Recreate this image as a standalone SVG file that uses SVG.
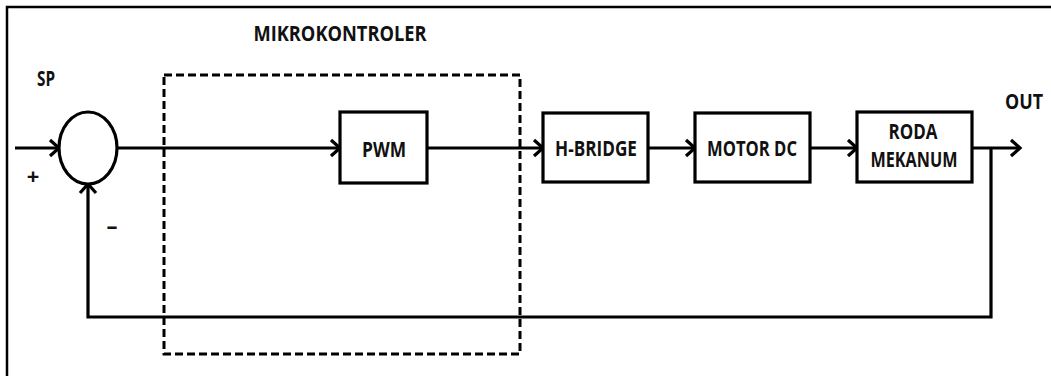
<svg xmlns="http://www.w3.org/2000/svg" width="1051" height="376" viewBox="0 0 1051 376">
<defs>
<marker id="arr" markerWidth="16" markerHeight="20" refX="12" refY="10" orient="auto" markerUnits="userSpaceOnUse">
<path d="M3,2 L12,10 L3,18" fill="none" stroke="#000" stroke-width="3.2"/>
</marker>
<style>
.ln{fill:none;stroke:#000;stroke-width:3.2}
.box{fill:#fff;stroke:#000;stroke-width:3.2}
.t{font-family:"Open Sans","Liberation Sans",sans-serif;font-weight:bold;font-size:22px;fill:#111;text-anchor:middle}
</style>
</defs>
<rect x="0" y="0" width="1051" height="376" fill="#fff"/>
<path d="M7,380 V7 H1060" fill="none" stroke="#000" stroke-width="2.5"/>
<g id="microcontroller">
<rect x="164" y="75" width="356" height="279" fill="none" stroke="#000" stroke-width="3" stroke-dasharray="8,4"/>
<text class="t" x="340" y="41" textLength="173" lengthAdjust="spacingAndGlyphs">MIKROKONTROLER</text>
</g>
<g id="connectors">
<line class="ln" x1="15" y1="148" x2="59" y2="148" marker-end="url(#arr)"/>
<line class="ln" x1="117" y1="148" x2="340" y2="148" marker-end="url(#arr)"/>
<line class="ln" x1="427" y1="148" x2="543" y2="148" marker-end="url(#arr)"/>
<line class="ln" x1="648" y1="148" x2="695" y2="148" marker-end="url(#arr)"/>
<line class="ln" x1="810" y1="148" x2="857" y2="148" marker-end="url(#arr)"/>
<line class="ln" x1="972" y1="148" x2="1020" y2="148" marker-end="url(#arr)"/>
<path class="ln" d="M991,148 V317 H88 V184" marker-end="url(#arr)"/>
</g>
<g id="sum">
<ellipse cx="88" cy="148" rx="29" ry="36" fill="#fff" stroke="#000" stroke-width="3.2"/>
<text class="t" x="46" y="86" textLength="18" lengthAdjust="spacingAndGlyphs">SP</text>
<text class="t" x="33" y="184" font-size="26">+</text>
<text class="t" x="112" y="234" font-weight="normal">–</text>
</g>
<g id="pwm">
<rect class="box" x="340" y="112" width="87" height="71"/>
<text class="t" x="384" y="157" textLength="44" lengthAdjust="spacingAndGlyphs">PWM</text>
</g>
<g id="hbridge">
<rect class="box" x="543" y="113" width="105" height="69"/>
<text class="t" x="596" y="156" textLength="82" lengthAdjust="spacingAndGlyphs">H-BRIDGE</text>
</g>
<g id="motordc">
<rect class="box" x="695" y="113" width="115" height="69"/>
<text class="t" x="752" y="156" textLength="90" lengthAdjust="spacingAndGlyphs">MOTOR DC</text>
</g>
<g id="roda">
<rect class="box" x="857" y="112" width="115" height="70"/>
<text class="t" x="913" y="139" textLength="49" lengthAdjust="spacingAndGlyphs">RODA</text>
<text class="t" x="914" y="167" textLength="87" lengthAdjust="spacingAndGlyphs">MEKANUM</text>
</g>
<g id="out">
<text class="t" x="1024" y="109" textLength="38" lengthAdjust="spacingAndGlyphs">OUT</text>
</g>
</svg>
